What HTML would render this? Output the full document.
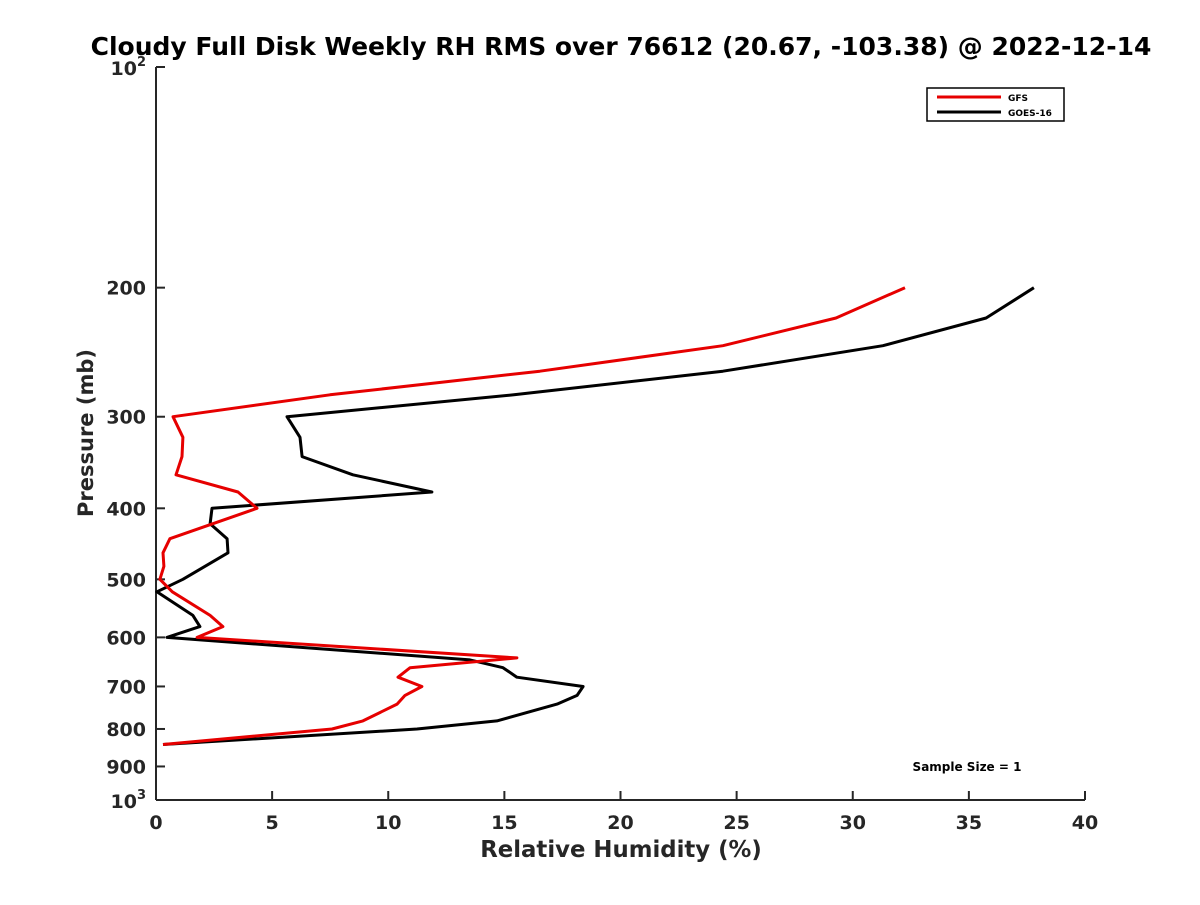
<!DOCTYPE html>
<html><head><meta charset="utf-8"><style>body{margin:0;background:#fff}</style></head>
<body>
<svg id="chart" width="1200" height="900" xmlns="http://www.w3.org/2000/svg" font-family="'DejaVu Sans','Liberation Sans',sans-serif"></svg>
<script>
const xTicks = [0,5,10,15,20,25,30,35,40];
const yTicks = [200,300,400,500,600,700,800,900];
const gfsPressure = [200,220,240,260,280,300,320,340,360,380,400,440,460,480,500,520,560,580,600,640,660,680,700,720,740,780,800,840];
const gfsRH = [32.25,29.28,24.41,16.53,7.49,0.73,1.16,1.12,0.86,3.53,4.35,0.6,0.3,0.34,0.17,0.7,2.33,2.88,1.77,15.54,10.94,10.42,11.45,10.72,10.38,8.91,7.58,0.3];
const goesPressure = [200,220,240,260,280,300,320,340,360,380,400,420,440,460,500,520,560,580,600,644,660,680,700,720,740,780,800,840];
const goesRH = [37.8,35.74,31.3,24.41,15.41,5.64,6.2,6.29,8.48,11.88,2.41,2.33,3.06,3.1,1.16,0.04,1.59,1.89,0.47,13.52,14.94,15.54,18.39,18.13,17.27,14.68,11.24,0.3];

const NS='http://www.w3.org/2000/svg';
const svg=document.getElementById('chart');
const X0=156,X1=1085,Y0=67,Y1=800;
const xs=v=>X0+(v-0)/(40-0)*(X1-X0);
const ys=p=>Y0+(Math.log10(p)-2)*(Y1-Y0);
function mk(tag,attrs,parent){const e=document.createElementNS(NS,tag);for(const k in attrs)e.setAttribute(k,attrs[k]);(parent||svg).appendChild(e);return e;}

const title=mk('text',{x:621,y:55,'text-anchor':'middle','font-size':25,'font-weight':'bold',fill:'#000'});
title.textContent='Cloudy Full Disk Weekly RH RMS over 76612 (20.67, -103.38) @ 2022-12-14';



const axes=mk('g',{stroke:'#262626','stroke-width':2});


mk('line',{x1:X0,y1:Y0,x2:X0,y2:Y1},axes);
mk('line',{x1:X0,y1:Y1,x2:X1,y2:Y1},axes);

xTicks.forEach(v=>{
  const x=xs(v);
  mk('line',{x1:x,y1:Y1,x2:x,y2:Y1-9,stroke:'#262626','stroke-width':2});
  const t=mk('text',{x:x,y:Y1+29,'text-anchor':'middle','font-size':19,'font-weight':'bold',fill:'#262626'});
  t.textContent=v;
  
  
});
yTicks.forEach(p=>{
  const y=ys(p);
  mk('line',{x1:X0,y1:y,x2:X0+9,y2:y,stroke:'#262626','stroke-width':2});
  const t=mk('text',{x:X0-10,y:y+7,'text-anchor':'end','font-size':19,'font-weight':'bold',fill:'#262626'});
  t.textContent=p;
  
  
});
[[100,'2'],[1000,'3']].forEach(([p,e])=>{
  const y=ys(p);
  mk('line',{x1:X0,y1:y,x2:X0+9,y2:y,stroke:'#262626','stroke-width':2});
  const t=mk('text',{x:X0-10,y:y+8,'text-anchor':'end','font-size':19,'font-weight':'bold',fill:'#262626'});
  t.innerHTML='10<tspan dy="-9" font-size="13">'+e+'</tspan>';
  
  
});

const xl=mk('text',{x:621,y:857,'text-anchor':'middle','font-size':22.8,'font-weight':'bold',fill:'#262626'});
xl.textContent='Relative Humidity (%)';


const yl=mk('text',{x:0,y:0,'text-anchor':'middle','font-size':21,'font-weight':'bold',fill:'#262626',transform:'translate(93,433) rotate(-90)'});
yl.textContent='Pressure (mb)';



function series(P,V,color,name){
  const pts=P.map((p,i)=>xs(V[i]).toFixed(1)+','+ys(p).toFixed(1)).join(' ');
  const l=mk('polyline',{points:pts,fill:'none',stroke:color,'stroke-width':3,'stroke-linejoin':'round'});
  
  
}
series(goesPressure,goesRH,'#000','goes16-line');
series(gfsPressure,gfsRH,'#e60000','gfs-line');

const lg=mk('g',{});


mk('rect',{x:927,y:88,width:137,height:33,fill:'#fff',stroke:'#000','stroke-width':1.5},lg);
mk('line',{x1:937,y1:97,x2:1001,y2:97,stroke:'#e60000','stroke-width':3},lg);
mk('line',{x1:937,y1:112,x2:1001,y2:112,stroke:'#000','stroke-width':3},lg);
const l1=mk('text',{x:1008,y:101,'font-size':9,'font-weight':'bold'},lg);l1.textContent='GFS';


const l2=mk('text',{x:1008,y:116,'font-size':9,'font-weight':'bold'},lg);l2.textContent='GOES-16';



const ss=mk('text',{x:967,y:771,'text-anchor':'middle','font-size':12,'font-weight':'bold'});
ss.textContent='Sample Size = 1';


</script>
</body></html>
